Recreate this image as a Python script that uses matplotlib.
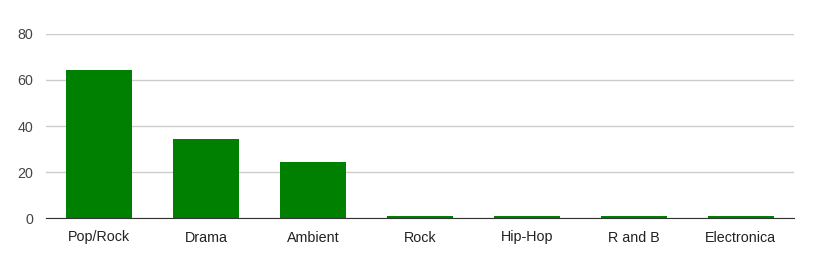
import matplotlib.pyplot as plt

genres = ['Pop/Rock', 'Drama', 'Ambient', 'Rock', 'Hip-Hop', 'R and B', 'Electronica']
counts = [64.5, 34.5, 24.5, 1, 1, 1, 1]
y_ticks = [0, 20, 40, 60, 80]

plt.rcParams['font.family'] = ['Liberation Sans', 'DejaVu Sans']


def plot_figure(names, values):
    fig = plt.figure(figsize=(8.13, 2.73), dpi=100)
    ax = fig.add_axes([45.5 / 813, 55 / 273, 748.5 / 813, 184 / 273])
    x = range(len(names))
    ax.bar(x, values, width=0.617, color='#008000', zorder=3)
    ax.set_xlim(-0.5, len(names) - 0.5)
    ax.set_ylim(0, 80)
    ax.set_yticks(y_ticks)
    ax.set_xticks(list(x))
    ax.set_xticklabels(names)
    ax.grid(axis='y', color='#cccccc', linewidth=1, zorder=0)
    for side in ['top', 'right', 'left']:
        ax.spines[side].set_visible(False)
    ax.spines['bottom'].set_color('#333333')
    ax.spines['bottom'].set_zorder(4)
    ax.tick_params(axis='both', length=0, labelsize=10.3)
    ax.tick_params(axis='x', pad=9, labelcolor='#222222')
    ax.tick_params(axis='y', pad=9, labelcolor='#444444')
    fig.savefig('out.png')


if __name__ == '__main__':
    plot_figure(genres, counts)
